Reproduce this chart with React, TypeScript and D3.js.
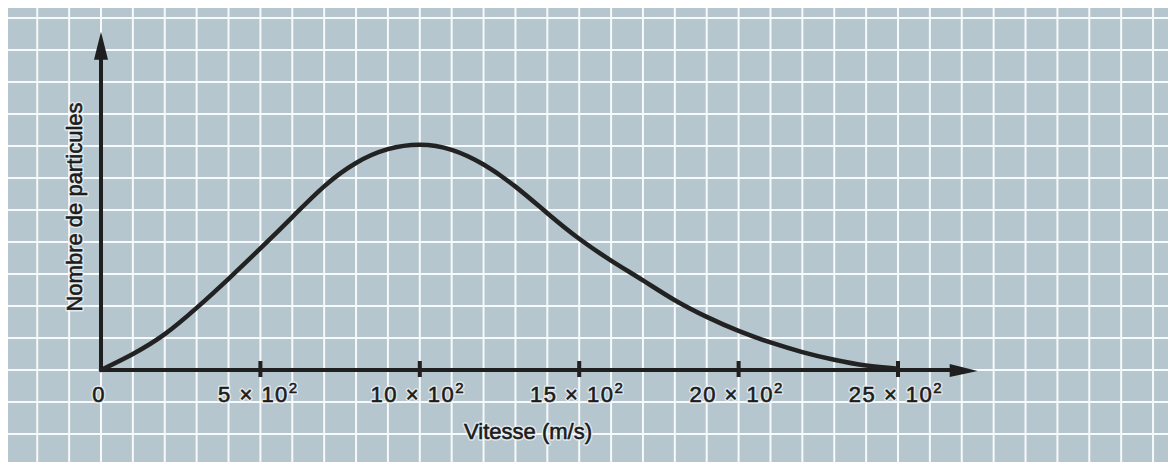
import React from "react";
import * as d3 from "d3";

// Speed in units of 10^2 m/s
const speeds = [0, 1, 2, 3, 4, 5, 6, 7, 8, 9, 10, 11, 12, 13, 14, 15, 16, 17, 18, 19, 20, 21, 22, 23, 24, 25];
// Number of particles (in grid squares, arbitrary units)
const counts = [0, 0.5, 1.12, 1.94, 2.85, 3.8, 4.78, 5.74, 6.47, 6.9, 7.04, 6.88, 6.42, 5.73, 4.9, 4.1, 3.42, 2.8, 2.18, 1.66, 1.22, 0.86, 0.56, 0.32, 0.14, 0.04];

const tickValues = [0, 5, 10, 15, 20, 25];
const tickLabels = ["0", "5 × 10^2", "10 × 10^2", "15 × 10^2", "20 × 10^2", "25 × 10^2"];
const xTitle = "Vitesse (m/s)";
const yTitle = "Nombre de particules";

const W = 1168;
const H = 466;
const FONT = "'Liberation Sans', Arial, sans-serif";
const INK = "#1c1c1c";

function HaloText(props: any) {
  const { children, ...rest } = props;
  return (
    <g>
      <text {...rest} fill={INK} stroke="#eef2f4" strokeWidth={3.5} strokeOpacity={0.75} strokeLinejoin="round">
        {children}
      </text>
      <text {...rest} fill={INK} stroke={INK} strokeWidth={0.55}>
        {children}
      </text>
    </g>
  );
}

export default function App() {
  const x = d3.scaleLinear().domain([0, 25]).range([101, 898]);
  const y = d3.scaleLinear().domain([0, 10]).range([370, 50]);

  const bg = { x0: 8, x1: 1168, y0: 8, y1: 462 };

  const gridX: number[] = [];
  for (let k = Math.ceil(x.invert(bg.x0)); x(k) < bg.x1; k++) gridX.push(k);
  const gridY: number[] = [];
  for (let k = Math.ceil(y.invert(bg.y1)); y(k) > bg.y0; k++) gridY.push(k);

  const line = d3
    .line<number>()
    .x((_, i) => x(speeds[i]))
    .y((d) => y(d))
    .curve(d3.curveNatural);

  const axisColor = "#1f1f1f";
  const x0 = x(0);
  const y0 = y(0);
  const yTip = y(10.57);
  const xTip = x(27.5);

  return (
    <svg width={W} height={H} style={{ position: "absolute", left: 0, top: 0, background: "#ffffff" }}>
      <rect x={bg.x0} y={bg.y0} width={bg.x1 - bg.x0} height={bg.y1 - bg.y0} fill="#b5c6ce" />
      <g stroke="#f7f9fa" strokeWidth={2}>
        {gridX.map((k) => (
          <line key={"gx" + k} x1={x(k)} x2={x(k)} y1={bg.y0} y2={bg.y1} />
        ))}
        {gridY.map((k) => (
          <line key={"gy" + k} x1={bg.x0} x2={bg.x1} y1={y(k)} y2={y(k)} />
        ))}
      </g>

      {/* axes */}
      <line x1={x0} x2={x0} y1={y0} y2={yTip + 20} stroke={axisColor} strokeWidth={4} />
      <path d={`M${x0},${yTip} L${x0 - 7},${yTip + 28} L${x0 + 7},${yTip + 28} Z`} fill={axisColor} />
      <line x1={x0} x2={xTip - 20} y1={y0} y2={y0} stroke={axisColor} strokeWidth={4} />
      <path d={`M${xTip},${y0 + 1} L${xTip - 28},${y0 - 6} L${xTip - 28},${y0 + 7} Z`} fill={axisColor} />

      {tickValues.slice(1).map((v) => (
        <line key={"t" + v} x1={x(v)} x2={x(v)} y1={y0 - 9} y2={y0 + 7} stroke={axisColor} strokeWidth={4} />
      ))}

      {/* curve */}
      <path d={line(counts) || ""} fill="none" stroke="#222222" strokeWidth={4.5} strokeLinecap="round" />

      {/* tick labels */}
      {tickValues.map((v, i) => {
        const [base, exp] = tickLabels[i].split("^");
        return (
          <HaloText
            key={"l" + v}
            x={x(v) - 2}
            y={402}
            textAnchor="middle"
            fontFamily={FONT}
            fontSize={22}
            letterSpacing={1.5}
          >
            {base}
            {exp ? (
              <tspan fontSize={15} dy={-9}>
                {exp}
              </tspan>
            ) : null}
          </HaloText>
        );
      })}

      <HaloText x={528} y={439} textAnchor="middle" fontFamily={FONT} fontSize={22}>
        {xTitle}
      </HaloText>
      <HaloText transform={`translate(82,207) rotate(-90)`} textAnchor="middle" fontFamily={FONT} fontSize={22}>
        {yTitle}
      </HaloText>
    </svg>
  );
}
